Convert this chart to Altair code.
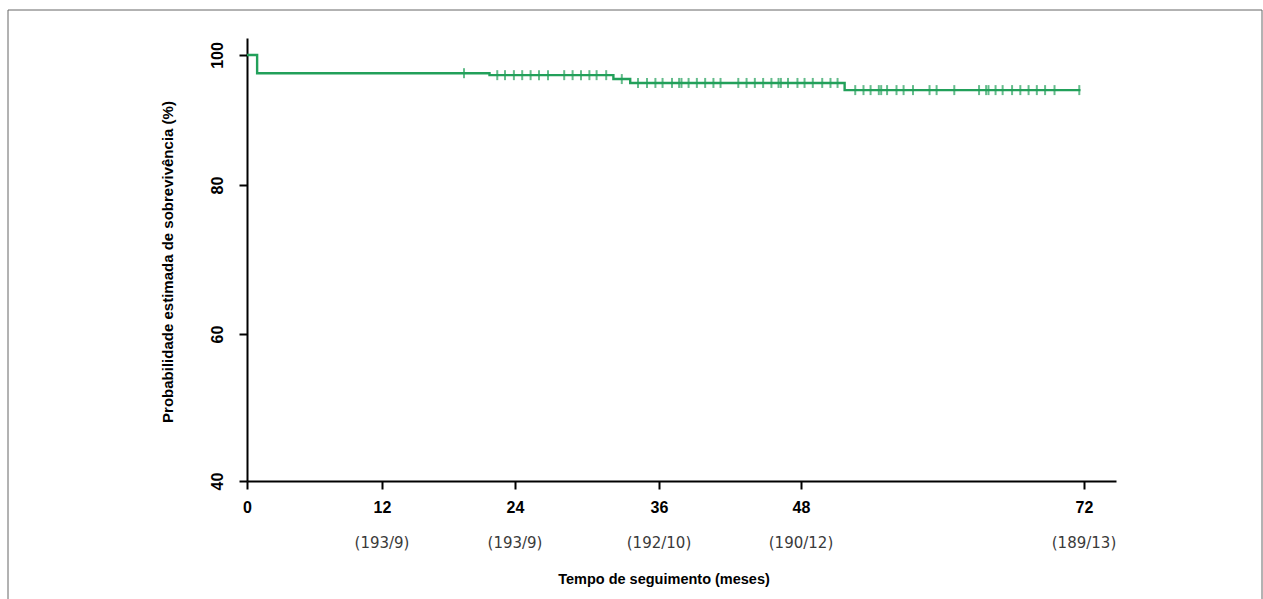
import altair as alt
import pandas as pd

# Kaplan-Meier step curve (months, survival %)
step_time = [0, 0.9, 21.7, 32.2, 33.6, 51.7, 71.7]
step_surv = [100, 97.2, 96.9, 96.3, 95.7, 94.6, 94.6]

# censored observations (months)
censor_time = [19.4, 22.4, 23.1, 23.9, 24.6, 25.3, 26.0, 26.75, 28.1, 28.8, 29.5,
               30.2, 30.8, 31.6, 32.9, 34.25, 35.0, 35.7, 36.3, 37.1, 37.7, 37.9,
               38.5, 39.2, 39.9, 40.6, 41.2, 42.7, 43.4, 44.1, 44.8, 45.5, 46.1,
               46.3, 46.9, 47.7, 48.3, 49.0, 49.8, 50.5, 51.1, 52.6, 53.3, 53.9,
               54.6, 54.8, 55.3, 56.1, 56.7, 57.5, 58.9, 59.5, 61.0, 63.1, 63.7,
               63.9, 64.5, 65.1, 65.9, 66.6, 67.3, 68.0, 68.7, 69.5, 71.6]

x_ticks = [0, 12, 24, 36, 48, 72]
y_ticks = [40, 60, 80, 100]

risk_time = [12, 24, 36, 48, 72]
risk_label = ["(193/9)", "(193/9)", "(192/10)", "(190/12)", "(189/13)"]

GREEN = "#22a05a"
FONT = "Liberation Sans"


def surv_at(t):
    s = step_surv[0]
    for tt, ss in zip(step_time, step_surv):
        if tt <= t:
            s = ss
    return s


line_df = pd.DataFrame({"t": step_time, "s": step_surv})
cens_df = pd.DataFrame({"t": censor_time, "s": [surv_at(t) for t in censor_time]})
risk_df = pd.DataFrame({"t": risk_time, "label": risk_label})
one = pd.DataFrame({"a": [0]})

# the printed axes are not evenly spaced: piecewise-linear scales follow the printed ticks
xscale = alt.Scale(domain=[0, 12, 24, 36, 48, 72, 74.7],
                   range=[0, 135, 268, 412, 554, 837, 869], nice=False, zero=False)
yscale = alt.Scale(domain=[40, 60, 80, 100, 102.6],
                   range=[443, 296, 147, 17, 0], nice=False, zero=False)

x_axis = alt.Axis(values=x_ticks, title=None, grid=False, domainColor="black",
                  domainWidth=2, tickColor="black", tickWidth=2, tickSize=8,
                  labelFont=FONT, labelFontSize=16, labelFontWeight="bold",
                  labelColor="black", labelPadding=10, labelFlush=False)
y_axis = alt.Axis(values=y_ticks, title=None, grid=False, domainColor="black",
                  domainWidth=2, tickColor="black", tickWidth=2, tickSize=8,
                  labelFont=FONT, labelFontSize=16, labelFontWeight="bold",
                  labelColor="black", labelAngle=270, labelAlign="center",
                  labelBaseline="alphabetic", labelPadding=17, labelFlush=False)

line = alt.Chart(line_df).mark_line(interpolate="step-after", color=GREEN, strokeWidth=2.4).encode(
    x=alt.X("t:Q", scale=xscale, axis=x_axis),
    y=alt.Y("s:Q", scale=yscale, axis=y_axis),
)

ticks = alt.Chart(cens_df).mark_tick(orient="vertical", size=10, thickness=2, color=GREEN).encode(
    x=alt.X("t:Q", scale=xscale, axis=x_axis),
    y=alt.Y("s:Q", scale=yscale, axis=y_axis),
)

risk = alt.Chart(risk_df).mark_text(font="DejaVu Sans", fontSize=15, color="#3a3a3a",
                                    baseline="middle", align="center").encode(
    x=alt.X("t:Q", scale=xscale, axis=x_axis),
    y=alt.value(505),
    text="label:N",
)

border = alt.Chart(one).mark_rect(fillOpacity=0, stroke="#666666", strokeWidth=1).encode(
    x=alt.value(-239), x2=alt.value(1015), y=alt.value(-28), y2=alt.value(600)
)

xtitle = alt.Chart(one).mark_text(text="Tempo de seguimento (meses)", font=FONT, fontSize=14.5,
                                  fontWeight="bold", color="black", baseline="middle",
                                  align="center").encode(x=alt.value(417), y=alt.value(542))

ytitle = alt.Chart(one).mark_text(text="Probabilidade estimada de sobrevivência (%)", font=FONT,
                                  fontSize=15, fontWeight="bold", color="black", angle=270,
                                  baseline="alphabetic", align="center").encode(
    x=alt.value(-74), y=alt.value(224))

chart = alt.layer(line, ticks, risk, border, xtitle, ytitle).properties(
    width=870, height=443,
    autosize=alt.AutoSizeParams(type="none"),
    padding={"left": 247, "top": 38, "right": 146, "bottom": 118},
    background="white",
).configure_view(strokeWidth=0)

chart.save("out.html", embed_options={"renderer": "svg", "actions": False})
